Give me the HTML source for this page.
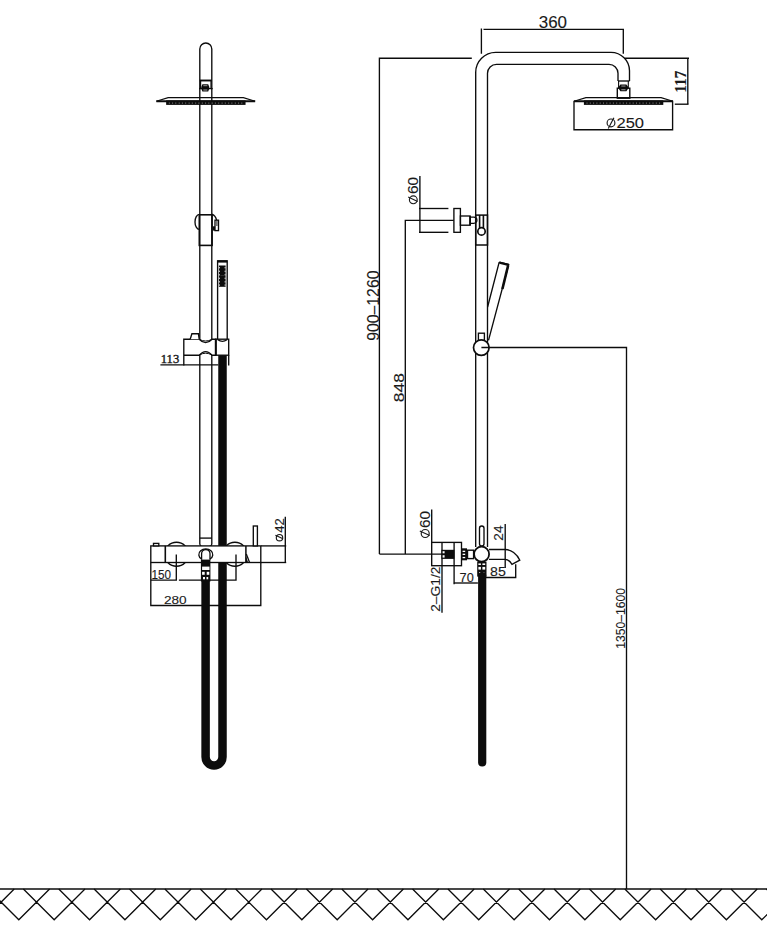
<!DOCTYPE html>
<html><head><meta charset="utf-8"><style>
html,body{margin:0;padding:0;background:#fff;}
body{width:767px;height:926px;overflow:hidden;font-family:"Liberation Sans",sans-serif;}
svg{display:block;}
</style></head><body>
<svg width="767" height="926" viewBox="0 0 767 926">
<line x1="0" y1="889" x2="767" y2="889" stroke="#0c0c0c" stroke-width="1.4"/>
<path d="M-47.38,889 L-16.58,919.8 L14.22,889 M-12.00,889 L18.80,919.8 L49.60,889 M23.38,889 L54.18,919.8 L84.98,889 M58.76,889 L89.56,919.8 L120.36,889 M94.14,889 L124.94,919.8 L155.74,889 M129.52,889 L160.32,919.8 L191.12,889 M164.90,889 L195.70,919.8 L226.50,889 M200.28,889 L231.08,919.8 L261.88,889 M235.66,889 L266.46,919.8 L297.26,889 M271.04,889 L301.84,919.8 L332.64,889 M306.42,889 L337.22,919.8 L368.02,889 M341.80,889 L372.60,919.8 L403.40,889 M377.18,889 L407.98,919.8 L438.78,889 M412.56,889 L443.36,919.8 L474.16,889 M447.94,889 L478.74,919.8 L509.54,889 M483.32,889 L514.12,919.8 L544.92,889 M518.70,889 L549.50,919.8 L580.30,889 M554.08,889 L584.88,919.8 L615.68,889 M589.46,889 L620.26,919.8 L651.06,889 M624.84,889 L655.64,919.8 L686.44,889 M660.22,889 L691.02,919.8 L721.82,889 M695.60,889 L726.40,919.8 L757.20,889 M730.98,889 L761.78,919.8 L792.58,889 M766.36,889 L797.16,919.8 L827.96,889" fill="none" stroke="#0c0c0c" stroke-width="1.3" />
<path d="M475.7,547 V72.3 A20,20 0 0 1 495.7,52.3 H611 A18.5,18.5 0 0 1 629.5,70.8 V81" fill="none" stroke="#0c0c0c" stroke-width="1.35" />
<path d="M487.5,547 V73.3 A9,9 0 0 1 496.5,64.3 H609 A9,9 0 0 1 618,73.3 V81" fill="none" stroke="#0c0c0c" stroke-width="1.35" />
<line x1="618" y1="81" x2="629.5" y2="81" stroke="#0c0c0c" stroke-width="1.35"/>
<line x1="618.6" y1="81" x2="618.6" y2="88.2" stroke="#0c0c0c" stroke-width="1.1"/>
<line x1="628.3" y1="81" x2="628.3" y2="88.2" stroke="#0c0c0c" stroke-width="1.1"/>
<rect x="617.3" y="88.2" width="12.5" height="10.0" rx="0" fill="#fff" stroke="#0c0c0c" stroke-width="1.4"/>
<path d="M620.4,84.6 H626.4 L628.1999999999999,86.94999999999999 V88.54999999999998 L626.4,91.3 H620.4 L618.6,88.54999999999998 V86.94999999999999 Z" fill="#0c0c0c"/>
<rect x="621.3" y="85.5" width="4.2" height="1.1" fill="#888"/>
<rect x="621.3" y="89.1" width="4.2" height="1.2" fill="#888"/>
<path d="M574.1,101.2 L585.9,97.6 H661.1 L672.9,101.2" fill="none" stroke="#0c0c0c" stroke-width="1.2" />
<line x1="574.1" y1="101.3" x2="672.9" y2="101.3" stroke="#0c0c0c" stroke-width="1.9"/>
<rect x="583.9" y="100.4" width="79.4" height="4.5" fill="#0c0c0c"/>
<path d="M586.5,103.1 h1 M589.8,103.1 h1 M593.1,103.1 h1 M596.4,103.1 h1 M599.7,103.1 h1 M603.0,103.1 h1 M606.3,103.1 h1 M609.6,103.1 h1 M612.9,103.1 h1 M616.2,103.1 h1 M619.5,103.1 h1 M622.8,103.1 h1 M626.1,103.1 h1 M629.4,103.1 h1 M632.7,103.1 h1 M636.0,103.1 h1 M639.3,103.1 h1 M642.6,103.1 h1 M645.9,103.1 h1 M649.2,103.1 h1 M652.5,103.1 h1 M655.8,103.1 h1 M659.1,103.1 h1" stroke="#9a9a9a" stroke-width="0.9"/>
<path d="M481.4,53.8 V28.6 M483.5,29.3 H623.3 V53.8" fill="none" stroke="#0c0c0c" stroke-width="1.35" />
<line x1="625" y1="58.2" x2="689" y2="58.2" stroke="#0c0c0c" stroke-width="1.35"/>
<line x1="674.8" y1="104.2" x2="688.5" y2="104.2" stroke="#0c0c0c" stroke-width="1.35"/>
<line x1="687.8" y1="58.2" x2="687.8" y2="104.2" stroke="#0c0c0c" stroke-width="1.35"/>
<path d="M574,100.7 V129.7 H672.6 V100.7" fill="none" stroke="#0c0c0c" stroke-width="1.35" />
<path d="M471.8,58.2 H379.4 V554.1" fill="none" stroke="#0c0c0c" stroke-width="1.35" />
<path d="M453.9,220.4 H405.3 V554.1" fill="none" stroke="#0c0c0c" stroke-width="1.35" />
<line x1="419.9" y1="176" x2="419.9" y2="232.3" stroke="#0c0c0c" stroke-width="1.35"/>
<line x1="419" y1="208.5" x2="448.4" y2="208.5" stroke="#0c0c0c" stroke-width="1.35"/>
<line x1="419" y1="232.3" x2="448.4" y2="232.3" stroke="#0c0c0c" stroke-width="1.35"/>
<rect x="453.9" y="208.5" width="6.5" height="23.8" rx="0" fill="#fff" stroke="#0c0c0c" stroke-width="1.35"/>
<rect x="460.4" y="216" width="9.7" height="9.2" rx="0" fill="none" stroke="#0c0c0c" stroke-width="1.35"/>
<path d="M470.1,217.1 H473.8 A3.1,3.1 0 0 1 473.8,223.3 H470.1" fill="#fff" stroke="#0c0c0c" stroke-width="1.35" />
<line x1="470.1" y1="216" x2="470.1" y2="225.2" stroke="#0c0c0c" stroke-width="1.8"/>
<rect x="475.7" y="215.1" width="11.8" height="29.9" rx="0" fill="none" stroke="#0c0c0c" stroke-width="1.5"/>
<path d="M479.6,215.1 V228.2 M483.4,215.1 V228.2" fill="none" stroke="#0c0c0c" stroke-width="1.6" />
<circle cx="481.5" cy="231.4" r="3.7" fill="#fff" stroke="#0c0c0c" stroke-width="1.7"/>
<path d="M499.2,262.2 L508.7,264.5 L488.5,340.3 M499.2,262.2 L487.6,307" fill="none" stroke="#0c0c0c" stroke-width="1.35" />
<line x1="499.4" y1="262.6" x2="508.5" y2="264.9" stroke="#0c0c0c" stroke-width="2.4"/>
<path d="M508.1,265.5 L502.4,289" fill="none" stroke="#0c0c0c" stroke-width="2.6" />
<rect x="478.4" y="333.2" width="6.0" height="7.1" rx="0" fill="#fff" stroke="#0c0c0c" stroke-width="1.35"/>
<circle cx="481.3" cy="347.6" r="7.8" fill="#fff" stroke="#0c0c0c" stroke-width="1.7"/>
<path d="M481.4,347.5 H626.5 V889" fill="none" stroke="#0c0c0c" stroke-width="1.35" />
<path d="M431.7,509.6 V565.7" fill="none" stroke="#0c0c0c" stroke-width="1.35" />
<rect x="431.7" y="542.4" width="29.8" height="23.3" rx="0" fill="#fff" stroke="#0c0c0c" stroke-width="1.35"/>
<line x1="442" y1="542.4" x2="442" y2="612.7" stroke="#0c0c0c" stroke-width="1.35"/>
<line x1="454.1" y1="542.4" x2="454.1" y2="584.2" stroke="#0c0c0c" stroke-width="1.35"/>
<rect x="441.4" y="549.8" width="13.0" height="9.1" fill="#0c0c0c"/>
<line x1="379.4" y1="554.1" x2="443" y2="554.1" stroke="#0c0c0c" stroke-width="1.35"/>
<rect x="442.6" y="551.2" width="2.0" height="2.1" fill="#fff"/>
<rect x="442.6" y="555.2" width="2.0" height="2.4" fill="#fff"/>
<rect x="461" y="548.3" width="6" height="12.0" fill="#0c0c0c"/>
<rect x="462.6" y="550.7" width="2.6" height="1.3" fill="#fff"/>
<rect x="462.6" y="553.7" width="2.6" height="1.3" fill="#fff"/>
<rect x="462.6" y="556.9" width="2.6" height="1.3" fill="#fff"/>
<rect x="467.5" y="550.2" width="6.1" height="8.4" rx="0" fill="#fff" stroke="#0c0c0c" stroke-width="1.4"/>
<rect x="479.5" y="526" width="4.5" height="20" rx="2.2" fill="#fff" stroke="#0c0c0c" stroke-width="1.35"/>
<path d="M489,549.5 H505.2 C511,549.5 517,554 519.8,560.2 L512,564.3 C510,561 508,559.4 505.2,559.4 H489" fill="#fff" stroke="#0c0c0c" stroke-width="1.35" />
<circle cx="481.6" cy="554.2" r="7.5" fill="#fff" stroke="#0c0c0c" stroke-width="1.8"/>
<line x1="505.2" y1="524.1" x2="505.2" y2="567.9" stroke="#0c0c0c" stroke-width="1.35"/>
<rect x="477.2" y="561.6" width="9.3" height="15.0" fill="#0c0c0c"/>
<rect x="478.4" y="563.4" width="2.5" height="1.6" fill="#fff"/>
<rect x="482.4" y="563.4" width="2.8" height="1.6" fill="#fff"/>
<rect x="478.4" y="566.9" width="2.5" height="2.7" fill="#fff"/>
<rect x="482.4" y="566.9" width="2.8" height="2.7" fill="#fff"/>
<rect x="479.2" y="572" width="1.4" height="4" fill="#fff"/>
<rect x="482.8" y="572" width="1.5" height="4" fill="#fff"/>
<path d="M482.2,576 V762.5" fill="none" stroke="#0c0c0c" stroke-width="8.2" stroke-linecap="round"/>
<path d="M486,577.5 H515.7 V564.3" fill="none" stroke="#0c0c0c" stroke-width="1.35" />
<path d="M453.9,583 H477.9" fill="none" stroke="#0c0c0c" stroke-width="1.35" />
<path d="M199.8,544 V49 A6,6 0 0 1 211.8,49 V544 A6,3.2 0 0 1 199.8,544" fill="#fff" stroke="#0c0c0c" stroke-width="1.35" />
<line x1="199.8" y1="80.5" x2="211.8" y2="80.5" stroke="#0c0c0c" stroke-width="1.9"/>
<line x1="200.6" y1="80.5" x2="200.6" y2="88.6" stroke="#0c0c0c" stroke-width="1.2"/>
<line x1="211" y1="80.5" x2="211" y2="88.6" stroke="#0c0c0c" stroke-width="1.2"/>
<line x1="199" y1="88.6" x2="212.7" y2="88.6" stroke="#0c0c0c" stroke-width="1.3"/>
<path d="M202.4,84.2 H208.20000000000002 L209.3,86.9 V88.5 L208.20000000000002,91.6 H202.4 L201.3,88.5 V86.9 Z" fill="#0c0c0c"/>
<rect x="203.3" y="85.10000000000001" width="4.0" height="1.1" fill="#888"/>
<rect x="203.3" y="89.39999999999999" width="4.0" height="1.2" fill="#888"/>
<line x1="199.8" y1="538.1" x2="211.8" y2="538.1" stroke="#0c0c0c" stroke-width="1.35"/>
<path d="M156.35,101.2 L168.15,97.6 H243.35 L255.15,101.2" fill="none" stroke="#0c0c0c" stroke-width="1.2" />
<line x1="156.35" y1="101.3" x2="255.15" y2="101.3" stroke="#0c0c0c" stroke-width="1.9"/>
<rect x="166.15" y="100.4" width="79.4" height="4.5" fill="#0c0c0c"/>
<path d="M168.8,103.1 h1 M172.1,103.1 h1 M175.3,103.1 h1 M178.7,103.1 h1 M181.9,103.1 h1 M185.2,103.1 h1 M188.6,103.1 h1 M191.8,103.1 h1 M195.2,103.1 h1 M198.4,103.1 h1 M201.8,103.1 h1 M205.1,103.1 h1 M208.3,103.1 h1 M211.7,103.1 h1 M214.9,103.1 h1 M218.2,103.1 h1 M221.6,103.1 h1 M224.8,103.1 h1 M228.2,103.1 h1 M231.4,103.1 h1 M234.8,103.1 h1 M238.1,103.1 h1 M241.3,103.1 h1" stroke="#9a9a9a" stroke-width="0.9"/>
<rect x="199.3" y="214.8" width="12.8" height="30.6" rx="0" fill="none" stroke="#0c0c0c" stroke-width="1.6"/>
<path d="M199.3,214.4 A4.3,7.5 0 0 0 199.3,229.4" fill="none" stroke="#0c0c0c" stroke-width="1.35" />
<path d="M212,214.2 Q215.6,215.8 216.6,220.2" fill="none" stroke="#0c0c0c" stroke-width="1.35" />
<rect x="215" y="220.2" width="3.5" height="10.4" rx="0" fill="#fff" stroke="#0c0c0c" stroke-width="1.35"/>
<rect x="215.7" y="221" width="2.1" height="5" fill="#777"/>
<rect x="212.6" y="226.3" width="2.4" height="4.3" fill="#0c0c0c"/>
<rect x="217.6" y="260.8" width="9.6" height="84.2" rx="0" fill="#fff" stroke="#0c0c0c" stroke-width="1.35"/>
<line x1="217.6" y1="261.6" x2="227.2" y2="261.6" stroke="#0c0c0c" stroke-width="2"/>
<rect x="218.9" y="265.5" width="6.7" height="21.3" fill="#0c0c0c"/>
<rect x="218.9" y="267.2" width="1.0" height="1.1" fill="#fff"/>
<rect x="224.6" y="267.2" width="1.0" height="1.1" fill="#fff"/>
<rect x="218.9" y="270.7" width="1.0" height="1.1" fill="#fff"/>
<rect x="224.6" y="270.7" width="1.0" height="1.1" fill="#fff"/>
<rect x="218.9" y="274.3" width="1.0" height="1.1" fill="#fff"/>
<rect x="224.6" y="274.3" width="1.0" height="1.1" fill="#fff"/>
<rect x="218.9" y="277.7" width="1.0" height="1.1" fill="#fff"/>
<rect x="224.6" y="277.7" width="1.0" height="1.1" fill="#fff"/>
<rect x="218.9" y="281.3" width="1.0" height="1.1" fill="#fff"/>
<rect x="224.6" y="281.3" width="1.0" height="1.1" fill="#fff"/>
<rect x="218.9" y="284.5" width="1.0" height="1.1" fill="#fff"/>
<rect x="224.6" y="284.5" width="1.0" height="1.1" fill="#fff"/>
<rect x="220.5" y="275.1" width="3.5" height="0.5" fill="#555"/>
<path d="M183.8,365.4 V339.2 H199.2 Q205.6,346 212.1,339.2 H215.8 V355.2 H212.1 Q205.6,348 199.2,355.2 H183.8" fill="#fff" stroke="#0c0c0c" stroke-width="1.35" />
<path d="M199.4,339.4 Q205.6,342.6 211.9,339.4" fill="none" stroke="#0c0c0c" stroke-width="1.0" />
<path d="M199.4,355 Q205.6,351.4 211.9,355" fill="none" stroke="#0c0c0c" stroke-width="1.0" />
<rect x="215.8" y="339.2" width="12.9" height="16.0" rx="0" fill="#fff" stroke="#0c0c0c" stroke-width="1.35"/>
<path d="M217.8,339.8 Q222.4,343 227,339.8" fill="none" stroke="#0c0c0c" stroke-width="1.35" />
<line x1="215.8" y1="339.2" x2="215.8" y2="355.2" stroke="#0c0c0c" stroke-width="2"/>
<path d="M190.2,339.2 L191.9,333.7 H198.4 L199.2,339.2" fill="#fff" stroke="#0c0c0c" stroke-width="1.35" />
<line x1="228.7" y1="355.2" x2="228.7" y2="365.4" stroke="#0c0c0c" stroke-width="1.35"/>
<line x1="160.4" y1="364.8" x2="218.3" y2="364.8" stroke="#0c0c0c" stroke-width="1.35"/>
<path d="M222.5,355.2 V757.1 A8.45,8.45 0 0 1 205.6,757.1 V578" fill="none" stroke="#0c0c0c" stroke-width="8.5" stroke-linejoin="round"/>
<circle cx="176.5" cy="554.2" r="12" fill="#fff" stroke="#0c0c0c" stroke-width="1.35"/>
<circle cx="234.9" cy="554.2" r="12" fill="#fff" stroke="#0c0c0c" stroke-width="1.35"/>
<rect x="150.8" y="545.9" width="110.0" height="16.6" rx="0" fill="#fff" stroke="#0c0c0c" stroke-width="1.35"/>
<line x1="165.3" y1="545.9" x2="165.3" y2="562.5" stroke="#0c0c0c" stroke-width="1.6"/>
<line x1="245.9" y1="545.9" x2="245.9" y2="562.8" stroke="#0c0c0c" stroke-width="1.5"/>
<path d="M246.3,554 L249.6,562.5" fill="none" stroke="#0c0c0c" stroke-width="1.3" />
<path d="M246,557.5 L248,562.5 L246,562.5 Z" fill="#0c0c0c" stroke="#0c0c0c" stroke-width="0.5" />
<rect x="153.5" y="543.4" width="5.3" height="2.5" rx="0" fill="#fff" stroke="#0c0c0c" stroke-width="1.35"/>
<rect x="253.3" y="526" width="4.1" height="19.9" rx="0" fill="#fff" stroke="#0c0c0c" stroke-width="1.35"/>
<path d="M201.6,559.7 V553.8 A4.2,4.2 0 0 1 210,553.8 V559.7" fill="#fff" stroke="#0c0c0c" stroke-width="1.3" />
<path d="M201.6,559 A7,5.6 0 1 1 210,559" fill="none" stroke="#0c0c0c" stroke-width="1.3" />
<rect x="200.9" y="559.6" width="9.5" height="21.9" fill="#0c0c0c"/>
<rect x="202.1" y="566.6" width="7.4" height="3.4" fill="#fff"/>
<rect x="202.1" y="571.8" width="2.6" height="3.0" fill="#fff"/>
<rect x="206.7" y="571.8" width="2.6" height="3.0" fill="#fff"/>
<rect x="203" y="577" width="2" height="2.6" fill="#fff"/>
<rect x="206.5" y="577" width="1.7" height="2.6" fill="#fff"/>
<path d="M261,545.9 H286.2" fill="none" stroke="#0c0c0c" stroke-width="1.35" />
<path d="M261,562.5 H286.2" fill="none" stroke="#0c0c0c" stroke-width="1.35" />
<line x1="285.3" y1="516.7" x2="285.3" y2="562.5" stroke="#0c0c0c" stroke-width="1.35"/>
<path d="M150.8,580.1 H176.3 V554.6" fill="none" stroke="#0c0c0c" stroke-width="1.35" />
<path d="M178.9,580.1 H236 V554.6" fill="none" stroke="#0c0c0c" stroke-width="1.35" />
<path d="M150.8,562.5 V605.5 H260.8 V562.5" fill="none" stroke="#0c0c0c" stroke-width="1.35" />
<text transform="translate(538.72,28.14) scale(0.1698,0.1592)" font-family="Liberation Sans" font-size="100" fill="#1a1a1a" stroke="#1a1a1a" stroke-width="0.73">360</text>
<text transform="translate(686.10,92.72) rotate(-90) scale(0.1530,0.1667)" font-family="Liberation Serif" font-weight="bold" font-size="100" fill="#1a1a1a" stroke="#1a1a1a" stroke-width="0.75">117</text>
<text transform="translate(616.47,128.45) scale(0.1652,0.1479)" font-family="Liberation Sans" font-size="100" fill="#1a1a1a" stroke="#1a1a1a" stroke-width="0.77">250</text>
<circle cx="611" cy="122.9" r="3.9" fill="none" stroke="#1a1a1a" stroke-width="1.15"/>
<line x1="608.3" y1="128.6" x2="613.9" y2="117.7" stroke="#1a1a1a" stroke-width="1.15"/>
<text transform="translate(417.66,194.07) rotate(-90) scale(0.1549,0.1423)" font-family="Liberation Sans" font-size="100" fill="#1a1a1a" stroke="#1a1a1a" stroke-width="0.81">60</text>
<circle cx="413.3" cy="199.8" r="3.9" fill="none" stroke="#1a1a1a" stroke-width="1.15"/>
<line x1="408.2" y1="197" x2="417.6" y2="201.4" stroke="#1a1a1a" stroke-width="1.15"/>
<text transform="translate(378.73,340.79) rotate(-90) scale(0.1580,0.1690)" font-family="Liberation Sans" font-size="100" fill="#1a1a1a" stroke="#1a1a1a" stroke-width="0.73">900–1260</text>
<text transform="translate(404.45,402.20) rotate(-90) scale(0.1741,0.1549)" font-family="Liberation Sans" font-size="100" fill="#1a1a1a" stroke="#1a1a1a" stroke-width="0.73">848</text>
<text transform="translate(429.75,528.06) rotate(-90) scale(0.1529,0.1493)" font-family="Liberation Sans" font-size="100" fill="#1a1a1a" stroke="#1a1a1a" stroke-width="0.79">60</text>
<circle cx="425.2" cy="533.5" r="4" fill="none" stroke="#1a1a1a" stroke-width="1.15"/>
<line x1="419.8" y1="530.9" x2="429.7" y2="535.5" stroke="#1a1a1a" stroke-width="1.15"/>
<text transform="translate(503.40,540.68) rotate(-90) scale(0.1359,0.1186)" font-family="Liberation Sans" font-size="100" fill="#1a1a1a" stroke="#1a1a1a" stroke-width="0.94">24</text>
<text transform="translate(440.18,611.79) rotate(-90) scale(0.1377,0.1189)" font-family="Liberation Sans" font-size="100" fill="#1a1a1a" stroke="#1a1a1a" stroke-width="0.94">2–G1/2</text>
<text transform="translate(459.56,581.77) scale(0.1275,0.1324)" font-family="Liberation Sans" font-size="100" fill="#1a1a1a" stroke="#1a1a1a" stroke-width="0.92">70</text>
<text transform="translate(490.03,575.58) scale(0.1417,0.1225)" font-family="Liberation Sans" font-size="100" fill="#1a1a1a" stroke="#1a1a1a" stroke-width="0.91">85</text>
<text transform="translate(624.58,648.67) rotate(-90) scale(0.1215,0.1225)" font-family="Liberation Sans" font-size="100" fill="#1a1a1a" stroke="#1a1a1a" stroke-width="0.98">1350–1600</text>
<text transform="translate(160.76,362.87) scale(0.1263,0.1299)" font-family="Liberation Serif" font-size="100" fill="#1a1a1a" stroke="#1a1a1a" stroke-width="3.12">113</text>
<text transform="translate(151.56,578.88) scale(0.1174,0.1239)" font-family="Liberation Sans" font-size="100" fill="#1a1a1a" stroke="#1a1a1a" stroke-width="0.99">150</text>
<text transform="translate(163.92,603.68) scale(0.1361,0.1155)" font-family="Liberation Sans" font-size="100" fill="#1a1a1a" stroke="#1a1a1a" stroke-width="0.95">280</text>
<text transform="translate(283.80,532.87) rotate(-90) scale(0.1327,0.1229)" font-family="Liberation Sans" font-size="100" fill="#1a1a1a" stroke="#1a1a1a" stroke-width="0.94">42</text>
<circle cx="279.5" cy="537.7" r="3.2" fill="none" stroke="#1a1a1a" stroke-width="1.15"/>
<line x1="275.4" y1="535.3" x2="283" y2="538.8" stroke="#1a1a1a" stroke-width="1.15"/>
</svg>
</body></html>
